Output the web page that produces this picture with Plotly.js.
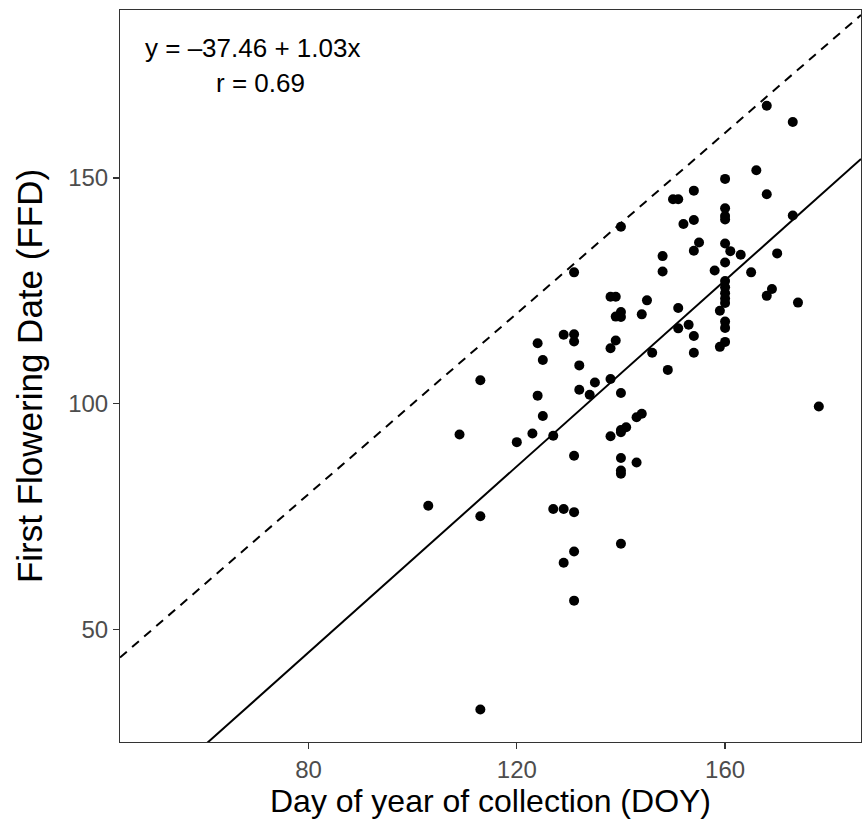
<!DOCTYPE html>
<html>
<head>
<meta charset="utf-8">
<script src="https://cdn.plot.ly/plotly-3.0.1.min.js"></script>
<style>html,body{margin:0;padding:0;background:#fff;}#chart{width:862px;height:826px;}</style>
</head>
<body>
<div id="chart"></div>
<script>
// Day of year of collection (DOY)
const doy = [
  168,173,166,160,168,154,150,151,160,160,160,140,154,152,173,155,154,160,161,163,170,148,160,158,148,165,169,168,
  160,160,160,160,160,174,138,139,145,140,139,140,144,151,159,153,151,160,160,
  131,129,131,131,124,139,138,125,132,146,138,135,132,134,140,113,124,125,109,120,123,127,131,138,140,141,140,143,144,140,143,140,140,149,154,154,159,160,178,
  103,113,127,129,131,131,129,140,131,113
];
// First flowering date (FFD)
const ffd = [
  166,162.4,151.7,149.8,146.4,147.2,145.3,145.3,143.3,141.6,140.8,139.2,140.7,139.8,141.7,135.7,133.9,135.5,133.8,133,133.3,132.7,131.3,129.5,129.3,129.1,125.4,123.9,
  127.2,125.8,124.5,123.3,122.3,122.4,123.7,123.7,122.9,120.3,119.3,119.2,119.8,121.2,120.6,117.5,116.7,118.2,116.8,
  129.1,115.3,115.4,113.8,113.4,114,112.3,109.7,108.5,111.3,105.5,104.7,103.1,102,102.4,105.2,101.8,97.3,93.2,91.5,93.4,92.9,88.5,92.8,94.2,94.8,93.7,97,97.8,88,87,85.2,84.5,107.5,111.3,115,112.6,113.7,99.4,
  77.4,75.1,76.7,76.7,76,67.3,64.8,69,56.4,32.3
];
const fitIntercept = -37.46;
const fitSlope = 1.03;
const fitR = 0.69;
const xTicks = [80, 120, 160];
const yTicks = [50, 100, 150];
const xRange = [43.8, 186.1];
const yRange = [25.1, 187.2];

const lineX = xRange.slice();
const oneToOneY = lineX.map(v => v);
const fitY = lineX.map(v => fitIntercept + fitSlope * v);

const traces = [
  {x: lineX, y: oneToOneY, mode: 'lines', type: 'scatter',
   line: {color: '#000', width: 2, dash: '9px,7px'}, hoverinfo: 'skip', showlegend: false},
  {x: lineX, y: fitY, mode: 'lines', type: 'scatter',
   line: {color: '#000', width: 2}, hoverinfo: 'skip', showlegend: false},
  {x: doy, y: ffd, mode: 'markers', type: 'scatter',
   marker: {color: '#000', size: 10}, showlegend: false}
];

const font = 'Liberation Sans, Arial, Helvetica, sans-serif';
const layout = {
  width: 862, height: 826,
  margin: {l: 120, r: 1, t: 10, b: 84},
  paper_bgcolor: '#fff', plot_bgcolor: '#fff',
  showlegend: false,
  font: {family: font, color: '#000'},
  xaxis: {
    range: xRange, tickvals: xTicks, ticktext: xTicks.map(String),
    showgrid: false, zeroline: false,
    showline: true, mirror: true, linecolor: '#333', linewidth: 1,
    ticks: 'outside', ticklen: 6, tickwidth: 1.2, tickcolor: '#333',
    tickfont: {family: font, size: 24, color: '#4d4d4d'},
    title: {text: 'Day of year of collection (DOY)', font: {family: font, size: 32, color: '#000'}, standoff: 6}
  },
  yaxis: {
    range: yRange, tickvals: yTicks, ticktext: yTicks.map(String),
    showgrid: false, zeroline: false,
    showline: true, mirror: true, linecolor: '#333', linewidth: 1,
    ticks: 'outside', ticklen: 6, tickwidth: 1.2, tickcolor: '#333',
    tickfont: {family: font, size: 24, color: '#4d4d4d'},
    title: {text: 'First Flowering Date (FFD)', font: {family: font, size: 35, color: '#000'}, standoff: 14}
  },
  annotations: [
    {xref: 'paper', yref: 'paper', x: 0.179, y: 0.948, xanchor: 'center', yanchor: 'middle', showarrow: false,
     text: 'y = \u2013' + Math.abs(fitIntercept).toFixed(2) + ' + ' + fitSlope.toFixed(2) + 'x',
     font: {family: font, size: 26, color: '#000'}},
    {xref: 'paper', yref: 'paper', x: 0.189, y: 0.900, xanchor: 'center', yanchor: 'middle', showarrow: false,
     text: 'r = ' + fitR.toFixed(2),
     font: {family: font, size: 26, color: '#000'}}
  ]
};

Plotly.newPlot('chart', traces, layout, {displayModeBar: false, staticPlot: true});
</script>
</body>
</html>
